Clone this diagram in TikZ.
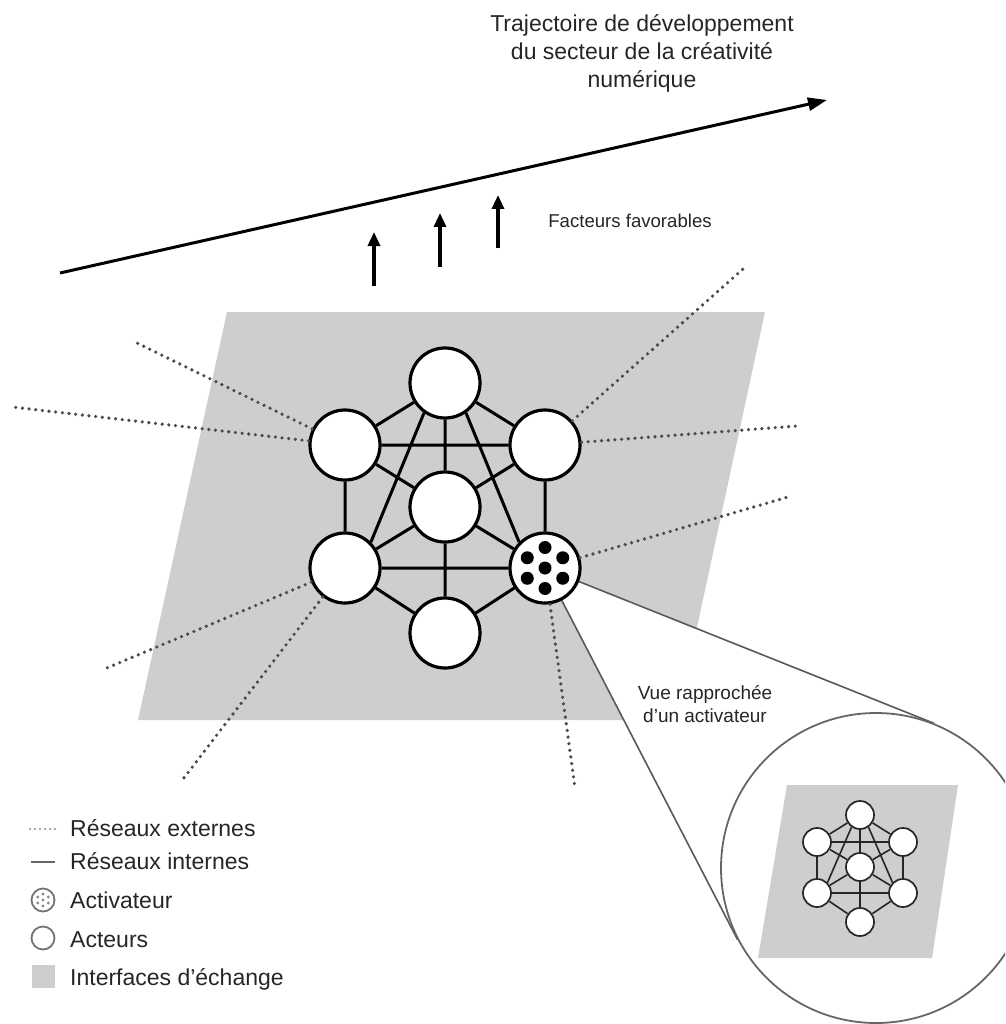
\documentclass[tikz,border=0pt]{standalone}
\usepackage{fontspec}
\setmainfont{Liberation Sans}
\usetikzlibrary{arrows.meta,calc}
\definecolor{iface}{RGB}{207,205,207}
\definecolor{dotc}{RGB}{75,75,75}
\definecolor{txt}{RGB}{38,38,38}
\pgfdeclarelayer{plane}
\pgfdeclarelayer{cone}
\pgfsetlayers{plane,cone,main}
\begin{document}
\begin{tikzpicture}[x=1pt,y=-1pt,
  actor/.style={circle,draw=black,fill=white,line width=3.2pt,minimum size=70pt,inner sep=0pt},
  miniactor/.style={circle,draw=black!85,fill=white,line width=1.7pt,minimum size=28pt,inner sep=0pt},
  link/.style={line width=3pt},
  minilink/.style={line width=1.6pt,draw=black!85},
  ext/.style={draw=dotc,line width=3.6pt,line cap=round,dash pattern=on 0pt off 6.7pt},
  conesides/.style={draw=black!65,line width=1.6pt},
  push/.style={line width=3.2pt,-{Triangle[length=14pt,width=12pt]}},
  label/.style={text=txt,inner sep=0pt},
  legendtext/.style={label,font=\fontsize{23}{28}\selectfont,anchor=base west},
  legendicon/.style={circle,draw=black!55,line width=1.8pt,minimum size=23pt,inner sep=0pt}
]
\useasboundingbox (0,0) rectangle (1005,1024);
\clip (0,0) rectangle (1005,1024);

% exchange interface plane
\begin{pgfonlayer}{plane}
  \fill[iface] (227,312) -- (765,312) -- (677,720) -- (138,720) -- cycle;
\end{pgfonlayer}

% development trajectory and favourable factors
\coordinate (traj0) at (60,273);
\coordinate (traj1) at (827,100);
\draw[line width=3pt,-{Triangle[length=19pt,width=13pt]}] (traj0) -- (traj1);
\node[label,font=\fontsize{23}{28}\selectfont,align=center,anchor=base] (title) at (642,88)
  {Trajectoire de développement\\du secteur de la créativité\\numérique};

\coordinate (f1a) at (374,286); \coordinate (f1b) at (374,232);
\coordinate (f2a) at (440,267); \coordinate (f2b) at (440,213);
\coordinate (f3a) at (498,248); \coordinate (f3b) at (498,195);
\draw[push] (f1a) -- (f1b);
\draw[push] (f2a) -- (f2b);
\draw[push] (f3a) -- (f3b);
\node[label,font=\fontsize{18.6}{22}\selectfont,anchor=base] (facteurs) at (630,228) {Facteurs favorables};

% magnified view of an activator
\node[circle,draw=black!60,fill=white,line width=1.8pt,minimum size=310pt,inner sep=0pt] (mag) at (876,868) {};
\fill[iface] (787,785) -- (958,785) -- (932,958) -- (758,958) -- cycle;
\node[miniactor] (mt)  at (860,815) {};
\node[miniactor] (mul) at (817,842) {};
\node[miniactor] (mur) at (903,842) {};
\node[miniactor] (mc)  at (860,867) {};
\node[miniactor] (mll) at (817,893) {};
\node[miniactor] (mlr) at (903,893) {};
\node[miniactor] (mb)  at (860,922) {};
\draw[minilink] (mt)--(mul) (mt)--(mur) (mul)--(mur) (mt)--(mc)
  (mt.235)--(mll.45) (mt.305)--(mlr.135) (mul)--(mc) (mur)--(mc)
  (mul)--(mll) (mur)--(mlr) (mc)--(mll) (mc)--(mlr) (mll)--(mlr)
  (mc)--(mb) (mll)--(mb) (mlr)--(mb);
\node[label,font=\fontsize{19}{23}\selectfont,align=center,anchor=base] (vue) at (705,722)
  {Vue rapprochée\\d'un activateur};

% actors of the ecosystem
\node[actor] (nt)  at (445,383) {};
\node[actor] (nul) at (345,445) {};
\node[actor] (nur) at (545,445) {};
\node[actor] (nc)  at (445,507) {};
\node[actor] (nll) at (345,568) {};
\node[actor] (act) at (545,568) {};
\node[actor] (nb)  at (445,633) {};
\foreach \a in {30,90,...,330} \fill ($(act.center)+(\a:20.5)$) circle (6.5);
\fill (act.center) circle (6.5);

% internal networks
\draw[link] (nt)--(nul) (nt)--(nur) (nul)--(nur) (nt)--(nc)
  (nt.235)--(nll.45) (nt.305)--(act.135) (nul)--(nc) (nur)--(nc)
  (nul)--(nll) (nur)--(act) (nc)--(nll) (nc)--(act) (nll)--(act)
  (nc)--(nb) (nll)--(nb) (act)--(nb);

% external networks
\coordinate (e1) at (133,341);
\coordinate (e2) at (12,407);
\coordinate (e3) at (743,269);
\coordinate (e4) at (797,426);
\coordinate (e5) at (788,497);
\coordinate (e6) at (575,788);
\coordinate (e7) at (102,670);
\coordinate (e8) at (180,783);
\draw[ext] (nul) -- (e1);
\draw[ext] (nul) -- (e2);
\draw[ext] (nur) -- (e3);
\draw[ext] (nur) -- (e4);
\draw[ext] (act) -- (e5);
\draw[ext] (act) -- (e6);
\draw[ext] (nll) -- (e7);
\draw[ext] (nll) -- (e8);

% zoom cone from the activator to its magnified view
\begin{pgfonlayer}{cone}
  \coordinate (t1) at (tangent cs:node=mag,point={(act.center)},solution=1);
  \coordinate (t2) at (tangent cs:node=mag,point={(act.center)},solution=2);
  \fill[white] (act.center) -- (t1) -- (mag.center) -- (t2) -- cycle;
  \draw[conesides] (act) -- (t1);
  \draw[conesides] (act) -- (t2);
\end{pgfonlayer}

% legend
\coordinate (lg1a) at (30,829); \coordinate (lg1b) at (55,829);
\draw[draw=black!45,line width=2.2pt,line cap=round,dash pattern=on 0pt off 5pt] (lg1a) -- (lg1b);
\node[legendtext] (lt1) at (70,836) {Réseaux externes};
\coordinate (lg2a) at (31,862); \coordinate (lg2b) at (55,862);
\draw[draw=black!60,line width=2.4pt] (lg2a) -- (lg2b);
\node[legendtext] (lt2) at (70,869) {Réseaux internes};
\node[legendicon] (lgact) at (43,900) {};
\foreach \a in {30,90,...,330} \fill[black!45] ($(lgact.center)+(\a:6)$) circle (1.6);
\fill[black!45] (lgact.center) circle (1.6);
\node[legendtext] (lt3) at (70,908) {Activateur};
\node[legendicon] (lgactor) at (43,938) {};
\node[legendtext] (lt4) at (70,947) {Acteurs};
\node[fill=iface,minimum size=23pt,inner sep=0pt] (lgiface) at (43.5,976) {};
\node[legendtext] (lt5) at (70,985) {Interfaces d'échange};
\end{tikzpicture}
\end{document}
